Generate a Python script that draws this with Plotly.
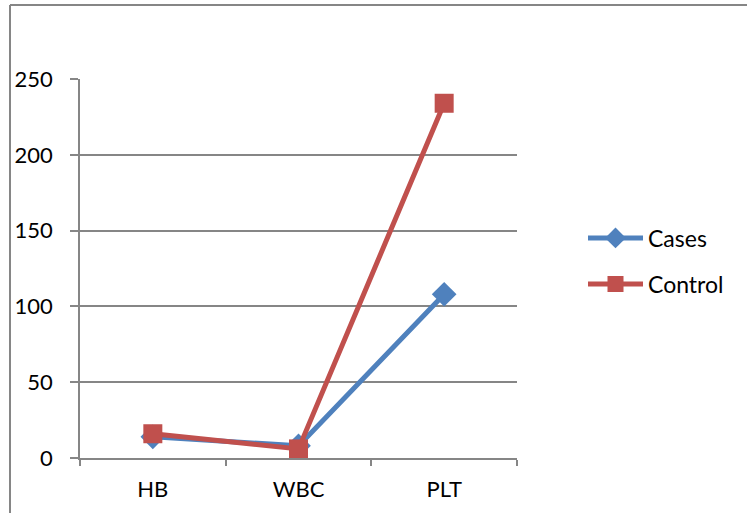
import plotly.graph_objects as go

categories = ["HB", "WBC", "PLT"]
cases = [14, 8, 108]
control = [16, 6, 234]

BLUE = "#4F81BD"
RED = "#C0504D"
GRID = "#868686"
FONT = "Lato"

W, H = 747, 513
L, R, T, B = 80, 517, 79, 458

fig = go.Figure()
fig.add_trace(go.Scatter(
    x=categories, y=cases, name="Cases", mode="lines+markers",
    line=dict(color=BLUE, width=5),
    marker=dict(symbol="diamond", size=19, color=BLUE),
    legend="legend",
))
fig.add_trace(go.Scatter(
    x=categories, y=control, name="Control", mode="lines+markers",
    line=dict(color=RED, width=5),
    marker=dict(symbol="square", size=19, color=RED),
    legend="legend2",
))

pw, ph = R - L, B - T


def px_x(x):
    return (x - L) / pw


def px_y(y):
    return (B - y) / ph


legend_common = dict(
    font=dict(family=FONT, size=23, color="black"),
    bgcolor="rgba(0,0,0,0)", itemwidth=55,
    xanchor="left", yanchor="middle",
)

fig.update_layout(
    width=W, height=H,
    margin=dict(l=L, r=W - R, t=T, b=H - B),
    paper_bgcolor="white", plot_bgcolor="white",
    font=dict(family=FONT, size=22, color="black"),
    showlegend=True,
    legend=dict(x=px_x(583), y=px_y(238), **legend_common),
    legend2=dict(x=px_x(583), y=px_y(284), **legend_common),
    xaxis=dict(
        type="category", range=[-0.5, 2.5],
        showgrid=False, showline=True, linecolor=GRID, linewidth=1.5,
        ticks="outside", tickson="boundaries", ticklen=6,
        tickcolor=GRID, tickwidth=1.5,
        ticklabelstandoff=11,
    ),
    yaxis=dict(
        range=[0, 250], dtick=50, tick0=0,
        showgrid=True, gridcolor=GRID, gridwidth=1.5,
        showline=True, linecolor=GRID, linewidth=1.5,
        ticks="outside", ticklen=8, tickcolor=GRID, tickwidth=1.5,
        zeroline=False, ticklabelstandoff=13,
    ),
    shapes=[
        # outer chart border (top and left edges)
        dict(type="line", xref="paper", yref="paper",
             x0=px_x(10), x1=px_x(760), y0=px_y(5), y1=px_y(5),
             line=dict(color=GRID, width=2)),
        dict(type="line", xref="paper", yref="paper",
             x0=px_x(10), x1=px_x(10), y0=px_y(5), y1=px_y(530),
             line=dict(color=GRID, width=2)),
    ],
)

fig.write_html("out.html")
